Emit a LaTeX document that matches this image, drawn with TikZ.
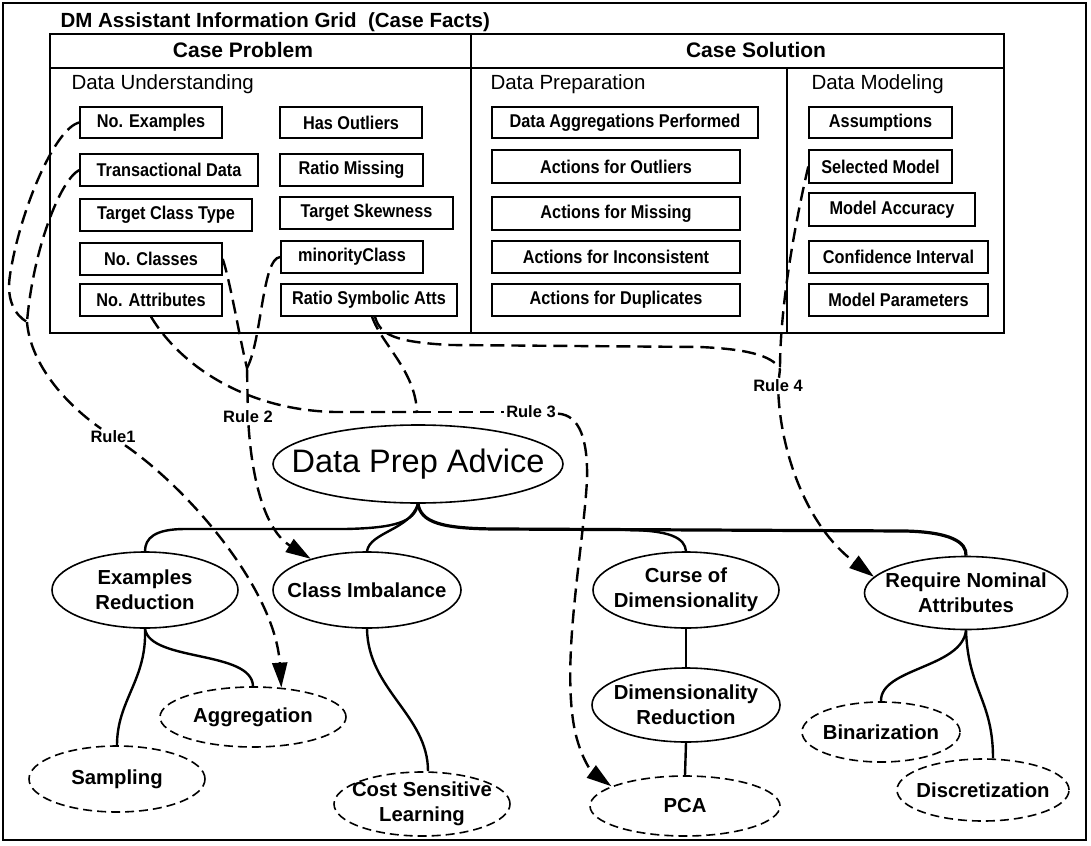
\documentclass[tikz,border=0pt]{standalone}
\usepackage{fontspec}
\setmainfont{Liberation Sans}
\newfontfamily\narrowsans{Liberation Sans}[FakeStretch=0.88]
\usetikzlibrary{shapes.geometric,arrows.meta}
\begin{document}
\begin{tikzpicture}[x=1pt,y=-1pt,
  box/.style={draw,line width=1.4pt,inner sep=0pt,font=\narrowsans\fontsize{18.5}{21}\selectfont\bfseries},
  head/.style={font=\fontsize{21}{25}\selectfont\bfseries},
  sect/.style={anchor=base west,font=\fontsize{20.5}{24}\selectfont},
  ell/.style={draw,ellipse,line width=1.6pt,inner xsep=-30pt,inner ysep=-10pt,align=center,font=\fontsize{20.3}{25}\selectfont\bfseries},
  dell/.style={ell,dash pattern=on 9pt off 5pt},
  tree/.style={line width=2.4pt},
  rule/.style={line width=2.4pt,dash pattern=on 14pt off 7pt},
  arr/.style={-{Triangle[length=25pt,width=15pt]}},
  rlbl/.style={inner sep=2pt,font=\fontsize{16.5}{19}\selectfont\bfseries}
]
\useasboundingbox (0,0) rectangle (1091,845);
\draw[line width=1.4pt] (3,3) rectangle (1086,840);

% ---------------- grid ----------------
\node[anchor=base west,font=\fontsize{20.5}{24}\selectfont\bfseries] (title) at (57,28) {DM Assistant Information Grid~~(Case Facts)};
\draw[line width=2.4pt] (50,34) rectangle (1004,333);
\draw[line width=2.4pt] (50,68) -- (1004,68);
\draw[line width=2.4pt] (471,34) -- (471,333);
\draw[line width=1.9pt] (787,68) -- (787,333);
\node[head] (hprob) at (243,50) {Case Problem};
\node[head] (hsol) at (756,50) {Case Solution};
\node[sect] (sund) at (68,90) {Data Understanding};
\node[sect] (sprep) at (487,90) {Data Preparation};
\node[sect] (smod) at (808,90) {Data Modeling};

\node[box,minimum width=142pt,minimum height=31pt] (noex) at (151,122.5) {No. Examples};
\node[box,minimum width=178pt,minimum height=32pt] (trans) at (169,170) {Transactional Data};
\node[box,minimum width=172pt,minimum height=32pt] (tct) at (166,215) {Target Class Type};
\node[box,minimum width=142pt,minimum height=32pt] (nocl) at (151,259) {No. Classes};
\node[box,minimum width=142pt,minimum height=32pt] (noatt) at (151,300) {No. Attributes};

\node[box,minimum width=142pt,minimum height=31pt] (hasout) at (351,122.5) {Has Outliers};
\node[box,minimum width=143pt,minimum height=32pt] (ratmiss) at (351.5,170) {Ratio Missing};
\node[box,minimum width=173pt,minimum height=32pt] (tskew) at (366.5,213) {Target Skewness};
\node[box,minimum width=142pt,minimum height=32pt] (minor) at (352,257) {minorityClass};
\node[box,minimum width=176pt,minimum height=32pt] (ratsym) at (369,300) {Ratio Symbolic Atts};

\node[box,minimum width=266pt,minimum height=31pt] (dagg) at (625,122.5) {Data Aggregations Performed};
\node[box,minimum width=248pt,minimum height=33pt] (aout) at (616,166.5) {Actions for Outliers};
\node[box,minimum width=248pt,minimum height=33pt] (amiss) at (616,213.5) {Actions for Missing};
\node[box,minimum width=248pt,minimum height=32pt] (aincon) at (616,257) {Actions for Inconsistent};
\node[box,minimum width=248pt,minimum height=32pt] (adup) at (616,300) {Actions for Duplicates};

\node[box,minimum width=143pt,minimum height=31pt] (assum) at (880.5,122.5) {Assumptions};
\node[box,minimum width=143pt,minimum height=33pt] (selmod) at (880.5,166.5) {Selected Model};
\node[box,minimum width=166pt,minimum height=33pt] (modacc) at (892,209.5) {Model Accuracy};
\node[box,minimum width=179pt,minimum height=32pt] (confint) at (898.5,257) {Confidence Interval};
\node[box,minimum width=179pt,minimum height=32pt] (modpar) at (898.5,300) {Model Parameters};

% ---------------- advice tree ----------------
\node[ell,inner xsep=-40pt,minimum width=290pt,minimum height=78pt,font=\fontsize{32.5}{38}\selectfont] (advice) at (418,464) {Data Prep Advice};
\node[ell,minimum width=186pt,minimum height=76pt] (exred) at (145,590) {Examples\\Reduction};
\node[ell,minimum width=188pt,minimum height=76pt] (classimb) at (367,590) {Class Imbalance};
\node[ell,minimum width=186pt,minimum height=76pt] (curse) at (686,590) {Curse of\\Dimensionality};
\node[ell,minimum width=203pt,minimum height=73pt] (reqnom) at (966,593) {Require Nominal\\Attributes};
\node[ell,minimum width=188pt,minimum height=74pt] (dimred) at (686,705) {Dimensionality\\Reduction};
\node[dell,minimum width=186pt,minimum height=60pt] (agg) at (253,717) {Aggregation};
\node[dell,minimum width=176pt,minimum height=66pt] (sampling) at (117,779) {Sampling};
\node[dell,minimum width=176pt,minimum height=64pt] (cost) at (422,804) {Cost Sensitive\\Learning};
\node[dell,minimum width=190pt,minimum height=60pt] (pca) at (685,806) {PCA};
\node[dell,minimum width=158pt,minimum height=60pt] (binar) at (881,732) {Binarization};
\node[dell,minimum width=172pt,minimum height=62pt] (discr) at (983,790) {Discretization};

\coordinate (jc) at (625,530);
\draw[tree] (advice.south) .. controls (415,522) and (395,528) .. (345,529) -- (185,529) .. controls (155,529) and (145,538) .. (exred.north);
\draw[tree] (advice.south) .. controls (410,530) and (370,532) .. (classimb.north);
\draw[tree,line width=3.2pt] (advice.south) .. controls (421,522) and (440,529) .. (500,529) -- (905,531) .. controls (950,532) and (967,542) .. (reqnom.north);
\draw[tree] (jc) .. controls (670,530) and (685,538) .. (curse.north);
\draw[tree] (exred.south) .. controls (147,680) and (117,700) .. (sampling.north);
\draw[tree] (exred.south) .. controls (150,662) and (252,650) .. (agg.north);
\draw[tree] (classimb.south) .. controls (368,690) and (428,715) .. ([xshift=6pt]cost.north);
\draw[tree] (curse.south) -- (dimred.north);
\draw[tree] (dimred.south) -- (pca.north);
\draw[tree] (reqnom.south) .. controls (962,668) and (880,668) .. (binar.north);
\draw[tree] (reqnom.south) .. controls (968,690) and (993,700) .. ([xshift=10pt]discr.north);

% ---------------- rules ----------------
\node[rlbl] (r1) at (113,437) {Rule1};
\node[rlbl] (r2) at (248,417) {Rule 2};
\node[rlbl] (r3) at (531,412) {Rule 3};
\node[rlbl] (r4) at (778,386) {Rule 4};
\coordinate (m1) at (27,322);
\coordinate (m2) at (247,368);
\coordinate (m3) at (417,412);
\coordinate (m4) at (780,369);

% Rule 1
\draw[rule] (noex.west) .. controls (55,128) and (20,210) .. (10,275) .. controls (6,300) and (15,315) .. (m1);
\draw[rule] (trans.west) .. controls (60,180) and (33,250) .. (m1);
\draw[rule] (m1) .. controls (30,360) and (60,400) .. (r1);
\draw[rule,arr] (r1) .. controls (190,490) and (275,590) .. (agg.46);
% Rule 2
\draw[rule] (nocl.east) .. controls (230,280) and (240,340) .. (m2);
\draw[rule] (minor.west) .. controls (262,258) and (262,340) .. (m2);
\draw[rule] (m2) -- (r2);
\draw[rule,arr] (r2) .. controls (252,480) and (265,530) .. (classimb.151);
% Rule 3
\draw[rule] (noatt.south) .. controls (180,365) and (245,410) .. (335,412) -- (m3);
\draw[rule] ([xshift=3pt]ratsym.south) .. controls (382,345) and (415,370) .. (m3);
\draw[rule] (m3) -- (r3);
\draw[rule,arr] (r3) .. controls (580,415) and (588,440) .. (587,480) .. controls (583,550) and (563,650) .. (573,720) .. controls (578,755) and (592,772) .. (pca.165);
% Rule 4
\draw[rule] ([xshift=6pt]ratsym.south) .. controls (380,335) and (395,342) .. (450,345) -- (700,347) .. controls (745,349) and (772,355) .. (m4);
\draw[rule] (selmod.west) .. controls (798,210) and (780,300) .. (m4);
\draw[rule] (m4) -- (r4);
\draw[rule,arr] (r4) .. controls (781,450) and (805,525) .. (reqnom.170);
\end{tikzpicture}
\end{document}
